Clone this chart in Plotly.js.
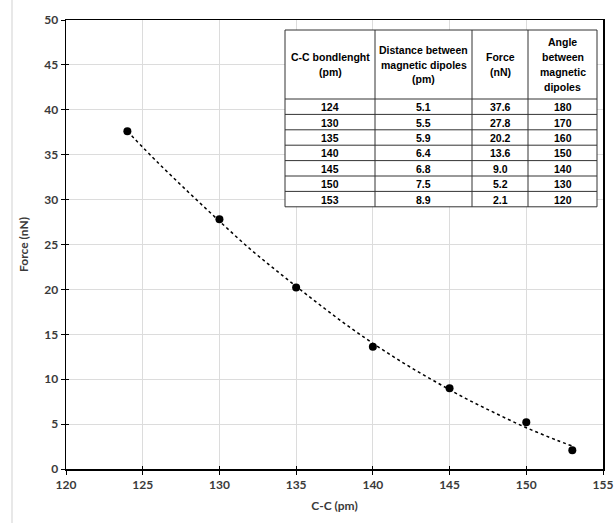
<!DOCTYPE html>
<html>
<head>
<meta charset="utf-8">
<script src="https://cdn.plot.ly/plotly-3.0.1.min.js"></script>
<style>html,body{margin:0;padding:0;background:#fff;}#chart{width:616px;height:523px;}</style>
</head>
<body>
<div id="chart"></div>
<script>
// Data points
const bondLength = [124, 130, 135, 140, 145, 150, 153];
const distance = ["5.1", "5.5", "5.9", "6.4", "6.8", "7.5", "8.9"];
const force = [37.6, 27.8, 20.2, 13.6, 9.0, 5.2, 2.1];
const angle = [180, 170, 160, 150, 140, 130, 120];

// Trend line (dotted)
const trendX = [124, 126, 128, 130, 132, 134, 136, 138, 140, 142, 144, 146, 148, 150, 152, 153];
const trendY = [37.6, 34.1, 30.8, 27.6, 24.5, 21.7, 19.0, 16.4, 14.0, 11.8, 9.8, 7.9, 6.2, 4.6, 3.2, 2.55];

// Table header labels
const tableHeaders = ["C-C bondlenght<br>(pm)", "Distance between<br>magnetic dipoles<br>(pm)", "Force<br>(nN)", "Angle<br>between<br>magnetic<br>dipoles"];

const fontFam = "Lato, 'Open Sans', sans-serif";
const tickFont = {family: fontFam, size: 12, color: "#3a3a3a", weight: "bold"};
const tableFont = {family: "'Liberation Sans', Arial, sans-serif", size: 10.5, color: "#000", weight: "bold"};

// Plot area geometry (px) for placing the inset table
const W = 616, H = 523, ML = 66, MR = 13, MT = 20, MB = 54;
const PW = W - ML - MR, PH = H - MT - MB;
const px = v => (v - ML) / PW;
const py = v => (H - MB - v) / PH;

// Table layout in px
const colEdges = [285, 375, 472, 528, 597];
const tableTop = 30, headerBottom = 99, rowH = 15.4, headerLineH = 14.8;
const rowEdges = [headerBottom];
for (let i = 0; i < bondLength.length; i++) rowEdges.push(headerBottom + rowH * (i + 1));

const lineStyle = {color: "#333", width: 1};
const shapes = [
  {type: "line", xref: "paper", yref: "paper", x0: px(12), x1: px(12), y0: py(523), y1: py(0),
   line: {color: "#e8e8e8", width: 2}, layer: "below"},
  {type: "rect", xref: "paper", yref: "paper", x0: px(colEdges[0]), x1: px(colEdges[4]),
   y0: py(rowEdges[rowEdges.length - 1]), y1: py(tableTop),
   fillcolor: "#fff", line: lineStyle, layer: "above"}
];
for (let c = 1; c < colEdges.length - 1; c++) {
  shapes.push({type: "line", xref: "paper", yref: "paper", x0: px(colEdges[c]), x1: px(colEdges[c]),
    y0: py(rowEdges[rowEdges.length - 1]), y1: py(tableTop), line: lineStyle, layer: "above"});
}
for (let r = 0; r < rowEdges.length - 1; r++) {
  shapes.push({type: "line", xref: "paper", yref: "paper", x0: px(colEdges[0]), x1: px(colEdges[4]),
    y0: py(rowEdges[r]), y1: py(rowEdges[r]), line: lineStyle, layer: "above"});
}

const annotations = [];
const colCenter = c => px((colEdges[c] + colEdges[c + 1]) / 2);
tableHeaders.forEach((t, c) => {
  const lines = t.split("<br>");
  const mid = (tableTop + headerBottom) / 2;
  lines.forEach((ln, i) => {
    annotations.push({xref: "paper", yref: "paper", x: colCenter(c),
      y: py(mid + (i - (lines.length - 1) / 2) * headerLineH),
      text: ln, showarrow: false, xanchor: "center", yanchor: "middle", font: tableFont});
  });
});
const cols = [bondLength.map(String), distance, force.map(v => v.toFixed(1)), angle.map(String)];
cols.forEach((col, c) => {
  col.forEach((t, r) => {
    annotations.push({xref: "paper", yref: "paper", x: colCenter(c), y: py((rowEdges[r] + rowEdges[r + 1]) / 2 + 0.5),
      text: t, showarrow: false, xanchor: "center", yanchor: "middle", font: tableFont});
  });
});

const traces = [
  {
    type: "scatter", mode: "lines", x: trendX, y: trendY,
    line: {color: "#000", width: 1.5, dash: "dot", shape: "spline"},
    hoverinfo: "skip", showlegend: false
  },
  {
    type: "scatter", mode: "markers", x: bondLength, y: force,
    marker: {color: "#000", size: 8}, showlegend: false
  },
  // helper trace so the inner-tick overlay axes are drawn (no visible marks)
  {
    type: "scatter", mode: "markers", x: [bondLength[0]], y: [force[0]], xaxis: "x2", yaxis: "y2",
    marker: {opacity: 0}, hoverinfo: "skip", showlegend: false
  }
];

const innerTicks = {ticks: "inside", ticklen: 3, tickcolor: "#000", showticklabels: false,
  showgrid: false, zeroline: false, showline: false};

const layout = {
  width: W, height: H,
  margin: {l: ML, r: MR, t: MT, b: MB},
  paper_bgcolor: "#fff", plot_bgcolor: "#fff",
  showlegend: false,
  xaxis: {
    range: [120, 155], dtick: 5, tick0: 120,
    showgrid: true, gridcolor: "#dcdcdc", gridwidth: 1,
    zeroline: false,
    showline: true, linecolor: "#000", linewidth: 1.5, mirror: true,
    ticks: "outside", ticklen: 4, tickcolor: "#000",
    tickfont: tickFont,
    title: {text: "C-C (pm)", font: tickFont, standoff: 10}
  },
  yaxis: {
    range: [0, 50], dtick: 5, tick0: 0,
    showgrid: true, gridcolor: "#dcdcdc", gridwidth: 1,
    zeroline: false,
    showline: true, linecolor: "#000", linewidth: 1.5, mirror: true,
    ticks: "outside", ticklen: 4, tickcolor: "#000",
    tickfont: tickFont,
    title: {text: "Force (nN)", font: tickFont, standoff: 13}
  },
  xaxis2: Object.assign({overlaying: "x", anchor: "y2", side: "bottom", range: [120, 155], dtick: 5, tick0: 120}, innerTicks),
  yaxis2: Object.assign({overlaying: "y", anchor: "x2", side: "left", range: [0, 50], dtick: 5, tick0: 0}, innerTicks),
  shapes: shapes,
  annotations: annotations
};

Plotly.newPlot("chart", traces, layout, {displayModeBar: false, staticPlot: true});
</script>
</body>
</html>
